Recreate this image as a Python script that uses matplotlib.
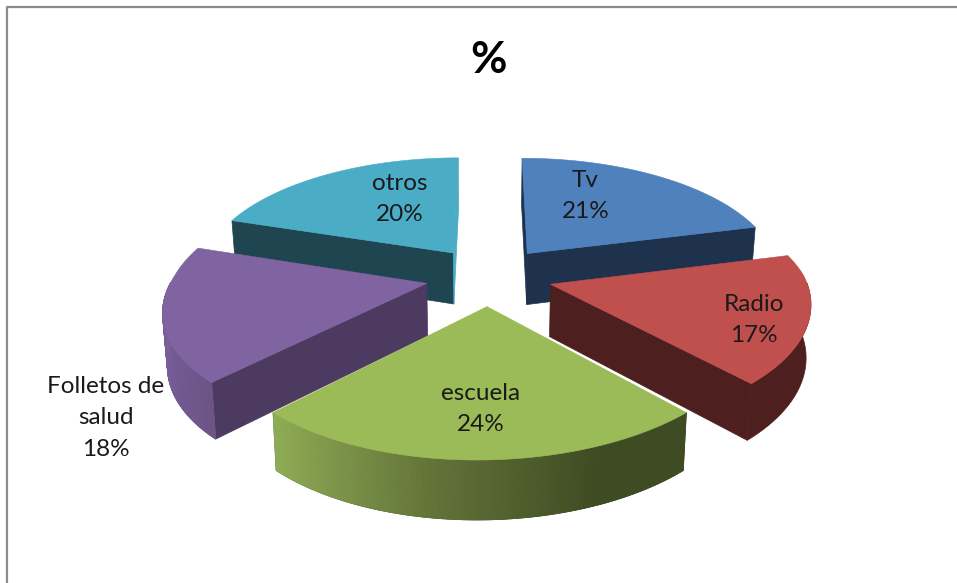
import matplotlib
matplotlib.use("Agg")
import matplotlib.pyplot as plt
import numpy as np
from matplotlib.patches import Polygon

# ── Data ──────────────────────────────────────────────────────────────────────

categories = ["Tv", "Radio", "escuela", "Folletos de\nsalud", "otros"]
values = [21, 17, 24, 18, 20]
title = "%"

# ── Style ─────────────────────────────────────────────────────────────────────

top_colours = ["#4F81BD", "#C0504D", "#9BBB59", "#8064A2", "#4BACC6"]
face_colours = ["#1F324D", "#4D1F1E", "#3F4B23", "#4D3A60", "#1F4550"]
# outer wall shading: (position along the visible arc, colour)
wall_stops = [
    [(0, "#1F324D"), (1, "#1F324D")],
    [(0, "#4D1F1E"), (1, "#4D1F1E")],
    [(0, "#3F4B23"), (0.22, "#3F4B23"), (0.62, "#65753A"), (1, "#8FAD55")],
    [(0, "#6C5486"), (1, "#7A5F9C")],
    [(0, "#1F4550"), (1, "#1F4550")],
]
# label centres, in pixels from the pie centre
label_offsets = [(96, -80), (264, 44), (-9, 133), (-384, 142), (-90, -77)]

# Pie layout in figure pixels
CX, CY = 489.5, 276
RX, RY = 254, 117.4
PERSP = 0.162
SKEW = 10
EXPLODE = 0.25
DEPTH = 52
BOTTOM_SHRINK = 0.985

plt.rcParams["font.family"] = ["Lato", "DejaVu Sans"]


def project(u, v, lower=False):
    s = 1 / (1 + PERSP * v)
    x = RX * u * s
    y = -RY * v * s
    if lower:
        x *= BOTTOM_SHRINK
        y += DEPTH * (1 + 0.6 * (s - 1))
    return CX + x + SKEW * min(v, 0), CY + y


def wall_colour(stops, t):
    pos = [p for p, _ in stops]
    rgb = np.array([matplotlib.colors.to_rgb(c) for _, c in stops])
    return [np.interp(t, pos, rgb[:, i]) for i in range(3)]


fig = plt.figure(figsize=(9.57, 5.83), dpi=100)
ax = fig.add_axes([0, 0, 1, 1])
ax.set_xlim(0, 957)
ax.set_ylim(583, 0)
ax.axis("off")

# Chart frame: left and top edges only
ax.plot([7, 7, 957], [583, 7, 7], color="#8C8C8C", lw=1.6, solid_capstyle="butt")

fractions = np.array(values) / sum(values)
edges = np.concatenate([[0], np.cumsum(fractions)]) * 2 * np.pi
mids = (edges[:-1] + edges[1:]) / 2

# Back slices first so the nearer ones sit over them
order = np.argsort(-np.cos(mids))

for i in order:
    a0, a1 = edges[i], edges[i + 1]
    ox, oy = EXPLODE * np.sin(mids[i]), EXPLODE * np.cos(mids[i])
    theta = np.linspace(a0, a1, 90)
    us = ox + np.sin(theta)
    vs = oy + np.cos(theta)

    # radial faces, skipping those turned away from the viewer;
    # the closing face of the last slice only shows as a lit sliver
    for j, a in enumerate((a0, a1)):
        turned = np.sin(a) if j == 1 else -np.sin(a)
        if turned < -1e-6:
            continue
        ue, ve = ox + np.sin(a), oy + np.cos(a)
        quad = [project(ox, oy), project(ue, ve), project(ue, ve, True), project(ox, oy, True)]
        col = top_colours[i] if (i == len(values) - 1 and j == 1) else face_colours[i]
        ax.add_patch(Polygon(quad, closed=True, fc=col, ec=col, lw=0.5))

    # outer wall: only the part of the rim turned towards the viewer
    seen = np.cos(theta) <= 0.02
    if seen.any():
        upper = [project(u, v) for u, v in zip(us[seen], vs[seen])]
        lower = [project(u, v, True) for u, v in zip(us[seen], vs[seen])]
        base = wall_stops[i][0][1]
        ax.add_patch(Polygon(upper + lower[::-1], closed=True, fc=base, ec=base, lw=0.5))

    # shaded rims get one thin strip per step
    if i in (2, 3):
        for k in range(len(theta) - 1):
            if not (seen[k] and seen[k + 1]):
                continue
            mid_sin = np.sin((theta[k] + theta[k + 1]) / 2)
            if i == 2:
                t = 1 - (mid_sin + 0.685) / 1.37
            else:
                t = 1 - np.clip((1 + mid_sin) / 0.315, 0, 1)
            col = wall_colour(wall_stops[i], t)
            quad = [project(us[k], vs[k]), project(us[k + 1], vs[k + 1]),
                    project(us[k + 1], vs[k + 1], True), project(us[k], vs[k], True)]
            ax.add_patch(Polygon(quad, closed=True, fc=col, ec=col, lw=0.6))

    # top surface
    pts = [project(ox, oy)] + [project(u, v) for u, v in zip(us, vs)]
    ax.add_patch(Polygon(pts, closed=True, fc=top_colours[i], ec=top_colours[i], lw=0.4))

# Data labels
for name, val, (dx, dy) in zip(categories, values, label_offsets):
    ax.text(CX + dx, CY + dy, f"{name}\n{val}%", ha="center", va="center", fontsize=17.5,
            color="#1A1A1A", linespacing=1.6)

ax.text(489, 60, title, ha="center", va="center", fontsize=32, fontweight="bold", color="black")

fig.savefig("out.png", dpi=100)
